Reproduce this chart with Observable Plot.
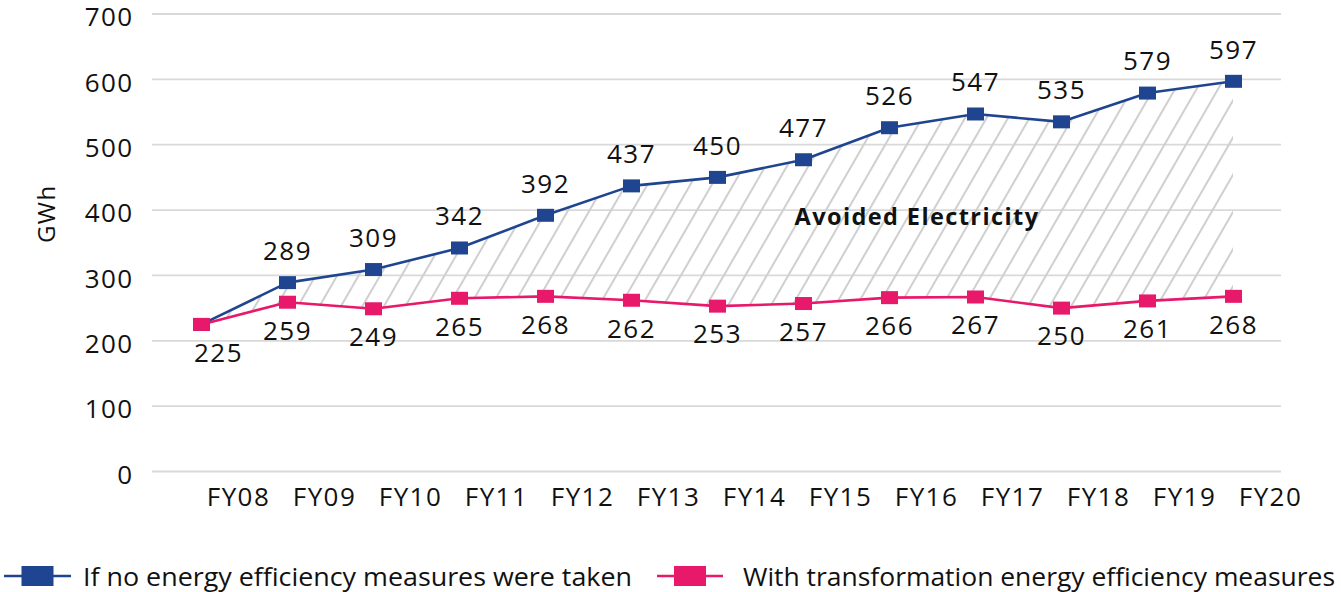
<!DOCTYPE html>
<html>
<head>
<meta charset="utf-8">
<script src="https://cdn.jsdelivr.net/npm/d3@7"></script>
<script src="https://cdn.jsdelivr.net/npm/@observablehq/plot@0.6"></script>
<style>
  html, body { margin: 0; padding: 0; background: #fff; }
  #wrap { position: relative; width: 1341px; height: 592px; font-family: "Open Sans", sans-serif; }
  #legend { position: relative; width: 1341px; height: 62px; }
  .item { position: absolute; top: 46px; transform: translateY(-50%); display: flex; align-items: center; }
  .item span { font-size: 25px; color: #111; white-space: nowrap; display: inline-block; transform-origin: left center; }
</style>
</head>
<body>
<div id="wrap">
  <div id="chart"></div>
  <div id="legend"></div>
</div>
<script>
const years = ["FY08","FY09","FY10","FY11","FY12","FY13","FY14","FY15","FY16","FY17","FY18","FY19","FY20"];
const noMeasures = [225, 289, 309, 342, 392, 437, 450, 477, 526, 547, 535, 579, 597];
const withMeasures = [225, 259, 249, 265, 268, 262, 253, 257, 266, 267, 250, 261, 268];
const yTicks = [0, 100, 200, 300, 400, 500, 600, 700];
const seriesNames = ["If no energy efficiency measures were taken", "With transformation energy efficiency measures"];
const seriesColors = ["#1f4591", "#e8186a"];
const areaLabel = "Avoided Electricity";
const yLabel = "GWh";

const rows = years.map((year, i) => ({year, blue: noMeasures[i], pink: withMeasures[i]}));
const blueRows = rows.map(d => ({year: d.year, value: d.blue}));
const pinkRows = rows.map(d => ({year: d.year, value: d.pink}));
const blueLabels = blueRows.slice(1);
const pinkFirst = pinkRows.slice(0, 1);
const pinkRest = pinkRows.slice(1);

const rectSymbol = { draw(ctx) { ctx.rect(-8.5, -6.5, 17, 13); } };

const hatchDefs = () => {
  const defs = d3.create("svg:defs");
  const p = defs.append("pattern")
    .attr("id", "hatch")
    .attr("patternUnits", "userSpaceOnUse")
    .attr("width", 18.6).attr("height", 18.6)
    .attr("patternTransform", "rotate(30)");
  p.append("line").attr("x1", 2).attr("y1", 0).attr("x2", 2).attr("y2", 18.6)
    .attr("stroke", "#cfcfcf").attr("stroke-width", 2);
  return defs.node();
};

const fs = 26;
const ls = "1.4px";
const chart = Plot.plot({
  width: 1341,
  height: 530,
  marginLeft: 152,
  marginRight: 60,
  marginTop: 13.5,
  marginBottom: 59,
  style: { fontFamily: "Open Sans, sans-serif", fontSize: fs + "px", color: "#111", background: "transparent", overflow: "visible", letterSpacing: ls },
  x: { type: "point", domain: years, padding: 0.5, label: null },
  y: { domain: [0, 700], label: null },
  marks: [
    hatchDefs,
    Plot.gridY(yTicks, { stroke: "#d9d9d9", strokeOpacity: 1, strokeWidth: 1.8 }),
    Plot.axisY(yTicks, { tickSize: 0, tickPadding: 19, fontSize: fs, dy: 4, label: null, fill: "#111" }),
    Plot.axisX(years, { tickSize: 0, tickPadding: 16, fontSize: fs, dx: 37, label: null, fill: "#111" }),
    Plot.areaY(rows, { x: "year", y1: "pink", y2: "blue", fill: "url(#hatch)", curve: "linear" }),
    Plot.lineY(blueRows, { x: "year", y: "value", stroke: seriesColors[0], strokeWidth: 2.6 }),
    Plot.lineY(pinkRows, { x: "year", y: "value", stroke: seriesColors[1], strokeWidth: 2.6 }),
    Plot.dot(blueRows, { x: "year", y: "value", symbol: rectSymbol, fill: seriesColors[0], stroke: null }),
    Plot.dot(pinkRows, { x: "year", y: "value", symbol: rectSymbol, fill: seriesColors[1], stroke: null }),
    Plot.text(blueLabels, { x: "year", y: "value", text: d => String(d.value), dy: -31, fontSize: fs, fill: "#111" }),
    Plot.text(pinkRest, { x: "year", y: "value", text: d => String(d.value), dy: 29, fontSize: fs, fill: "#111" }),
    Plot.text(pinkFirst, { x: "year", y: "value", text: d => String(d.value), dy: 29, dx: 17, fontSize: fs, fill: "#111" }),
    Plot.text([areaLabel], { frameAnchor: "middle", text: d => d, dx: 200, dy: -25, fontSize: 23.5, fontWeight: "bold", fill: "#111", textAnchor: "middle" }),
    Plot.text([yLabel], { frameAnchor: "left", text: d => d, rotate: -90, dx: -105, dy: -29, fontSize: 24, fill: "#111", textAnchor: "middle" })
  ]
});
document.getElementById("chart").appendChild(chart);

// Legend
const legend = document.getElementById("legend");
const legendPos = [{left: 4, w: 67, textLeft: 83, textWidth: 549}, {left: 657, w: 66, textLeft: 743, textWidth: 592}];
seriesNames.forEach((name, i) => {
  const item = document.createElement("div");
  item.className = "item";
  item.style.left = legendPos[i].left + "px";
  const w = legendPos[i].w;
  item.innerHTML = `<svg width="${w}" height="22" style="display:block"><line x1="0" x2="${w}" y1="11" y2="11" stroke="${seriesColors[i]}" stroke-width="2.6"/><rect x="${w/2-16}" y="1" width="32" height="20" fill="${seriesColors[i]}"/></svg>`;
  legend.appendChild(item);
  const t = document.createElement("div");
  t.className = "item";
  t.style.left = legendPos[i].textLeft + "px";
  const span = document.createElement("span");
  span.textContent = name;
  t.appendChild(span);
  legend.appendChild(t);
  const natural = span.getBoundingClientRect().width;
  span.style.transform = `scaleX(${legendPos[i].textWidth / natural})`;
});
</script>
</body>
</html>
